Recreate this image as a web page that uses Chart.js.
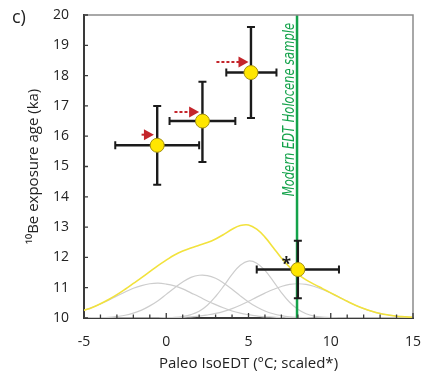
<!DOCTYPE html>
<html><head><meta charset="utf-8">
<script src="https://cdn.jsdelivr.net/npm/chart.js@4/dist/chart.umd.min.js"></script>
<style>html,body{margin:0;padding:0;background:#fff;}#wrap{width:429px;height:380px;position:relative}</style>
</head><body><div id="wrap"><canvas id="c" width="429" height="380"></canvas></div>
<script>
// ---- data ----
const curveX = [-5,-4.5,-4,-3.5,-3,-2.5,-2,-1.5,-1,-0.5,0,0.5,1,1.5,2,2.5,3,3.5,4,4.5,5,5.5,6,6.5,7,7.5,8,8.5,9,9.5,10,10.5,11,11.5,12,12.5,13,13.5,14,14.5,15];
const gauss1 = [10.25,10.35,10.46,10.59,10.73,10.86,10.98,11.07,11.13,11.15,11.12,11.06,10.96,10.83,10.70,10.56,10.44,10.33,10.23,10.16,10.11,10.07,10.04,10.03,10.01,10.01,10.00,10.00,10.00,10.00,10.00,10.00,10.00,10.00,10.00,10.00,10.00,10.00,10.00,10.00,10.00];
const gauss2 = [10.00,10.01,10.01,10.02,10.05,10.09,10.16,10.26,10.40,10.57,10.78,10.99,11.19,11.34,11.41,11.40,11.31,11.15,10.95,10.73,10.53,10.36,10.23,10.14,10.08,10.04,10.02,10.01,10.00,10.00,10.00,10.00,10.00,10.00,10.00,10.00,10.00,10.00,10.00,10.00,10.00];
const gauss3 = [10.00,10.00,10.00,10.00,10.00,10.00,10.00,10.00,10.00,10.00,10.01,10.02,10.05,10.11,10.22,10.42,10.71,11.06,11.44,11.74,11.88,11.81,11.57,11.22,10.84,10.52,10.29,10.14,10.06,10.03,10.01,10.00,10.00,10.00,10.00,10.00,10.00,10.00,10.00,10.00,10.00];
const gauss4 = [10.00,10.00,10.00,10.00,10.00,10.00,10.00,10.00,10.00,10.00,10.01,10.01,10.02,10.04,10.06,10.10,10.15,10.22,10.31,10.42,10.55,10.69,10.82,10.94,11.04,11.11,11.13,11.11,11.04,10.94,10.82,10.69,10.55,10.42,10.31,10.22,10.15,10.10,10.06,10.04,10.02];
const sumCurve = [10.25,10.35,10.47,10.61,10.77,10.95,11.14,11.33,11.53,11.73,11.91,12.08,12.21,12.31,12.40,12.49,12.61,12.76,12.93,13.05,13.07,12.93,12.67,12.33,11.98,11.68,11.45,11.26,11.11,10.97,10.83,10.69,10.55,10.42,10.31,10.22,10.15,10.10,10.06,10.04,10.02];

const sampleX  = [-0.55, 2.2, 5.15, 8.0];
const sampleY  = [15.7, 16.5, 18.1, 11.6];
const xErrLow  = [-3.1, 0.2, 3.65, 5.5];
const xErrHigh = [2.0, 4.2, 6.7, 10.5];
const yErrLow  = [14.4, 15.15, 16.6, 10.65];
const yErrHigh = [17.0, 17.8, 19.6, 12.55];

const modernX = 7.95;
const modernLabel = 'Modern EDT Holocene sample';

const arrowStartX = [-1.5, 0.5, 3.05];
const arrowEndX   = [-0.75, 2.0, 5.0];
const arrowY      = [16.05, 16.8, 18.45];
const arrowDashed = [false, true, true];

const starX = [7.3];
const starY = [11.85];

const xMin = -5, xMax = 15, yMin = 10, yMax = 20;
const panelLabel = 'c)';
const xTitle = 'Paleo IsoEDT (°C; scaled*)';
const yTitle = '¹⁰Be exposure age (ka)';

// ---- build datasets ----
const pts = a => curveX.map((x, i) => ({x, y: a[i]}));
const GRAY = '#cdcdcd';

const overlay = {
  id: 'overlay',
  beforeDatasetDraw(chart, args) {
    if (args.index !== 0) return;
    const {ctx, scales: {x, y}} = chart;
    ctx.save();
    ctx.strokeStyle = '#1b1b1b';
    const cap = 4;
    for (let i = 0; i < sampleX.length; i++) {
      const px = x.getPixelForValue(sampleX[i]);
      const py = y.getPixelForValue(sampleY[i]);
      const xl = x.getPixelForValue(xErrLow[i]), xh = x.getPixelForValue(xErrHigh[i]);
      const yl = y.getPixelForValue(yErrLow[i]), yh = y.getPixelForValue(yErrHigh[i]);
      ctx.lineWidth = 2.4;
      ctx.beginPath();
      ctx.moveTo(xl, py); ctx.lineTo(xh, py);
      ctx.moveTo(px, yl); ctx.lineTo(px, yh);
      ctx.stroke();
      ctx.lineWidth = 2;
      ctx.beginPath();
      ctx.moveTo(xl, py - cap); ctx.lineTo(xl, py + cap);
      ctx.moveTo(xh, py - cap); ctx.lineTo(xh, py + cap);
      ctx.moveTo(px - cap, yl); ctx.lineTo(px + cap, yl);
      ctx.moveTo(px - cap, yh); ctx.lineTo(px + cap, yh);
      ctx.stroke();
    }
    ctx.restore();
  },
  afterDatasetsDraw(chart) {
    const {ctx, chartArea: ca, scales: {x, y}} = chart;
    ctx.save();
    // frame top / right
    ctx.strokeStyle = '#8c8c8c';
    ctx.lineWidth = 1.5;
    ctx.beginPath();
    ctx.moveTo(ca.left, ca.top); ctx.lineTo(ca.right, ca.top); ctx.lineTo(ca.right, ca.bottom);
    ctx.stroke();
    // inward ticks
    ctx.strokeStyle = '#3a3a3a';
    ctx.lineWidth = 1.3;
    ctx.beginPath();
    x.ticks.forEach(t => {
      const px = x.getPixelForValue(t.value);
      const len = (t.value % 5 === 0) ? 5 : 3.5;
      ctx.moveTo(px, ca.bottom); ctx.lineTo(px, ca.bottom - len);
    });
    y.ticks.forEach(t => {
      const py = y.getPixelForValue(t.value);
      ctx.moveTo(ca.left, py); ctx.lineTo(ca.left + 4, py);
    });
    ctx.stroke();
    // arrows
    ctx.strokeStyle = '#c4252b';
    ctx.fillStyle = '#c4252b';
    for (let i = 0; i < arrowY.length; i++) {
      const x0 = x.getPixelForValue(arrowStartX[i]);
      const x1 = x.getPixelForValue(arrowEndX[i]);
      const py = y.getPixelForValue(arrowY[i]);
      const head = 10;
      ctx.lineWidth = 2;
      ctx.setLineDash(arrowDashed[i] ? [3, 2] : []);
      ctx.beginPath();
      ctx.moveTo(x0, py); ctx.lineTo(x1 - head + 1, py);
      ctx.stroke();
      ctx.setLineDash([]);
      ctx.beginPath();
      ctx.moveTo(x1, py);
      ctx.lineTo(x1 - head, py - 5.5);
      ctx.lineTo(x1 - head, py + 5.5);
      ctx.closePath();
      ctx.fill();
    }
    // asterisk
    ctx.fillStyle = '#1b1b1b';
    ctx.font = 'bold 17px "Open Sans", sans-serif';
    ctx.textAlign = 'center';
    ctx.textBaseline = 'middle';
    for (let i = 0; i < starX.length; i++) {
      ctx.fillText('*', x.getPixelForValue(starX[i]), y.getPixelForValue(starY[i]) + 3);
    }
    // modern label
    const gx = x.getPixelForValue(modernX);
    ctx.translate(gx - 3, ca.top + 8);
    ctx.rotate(-Math.PI / 2);
    ctx.scale(0.8, 1);
    ctx.fillStyle = '#13a24a';
    ctx.font = 'italic 16px "Liberation Sans Narrow", "DejaVu Sans Condensed", sans-serif';
    ctx.textAlign = 'right';
    ctx.textBaseline = 'alphabetic';
    ctx.fillText(modernLabel, 0, 0);
    ctx.restore();
    // panel label
    ctx.save();
    ctx.fillStyle = '#222';
    ctx.font = '18px "Open Sans", sans-serif';
    ctx.textAlign = 'left';
    ctx.textBaseline = 'middle';
    ctx.fillText(panelLabel, 12, 18);
    ctx.restore();
  }
};

new Chart(document.getElementById('c'), {
  type: 'scatter',
  data: {
    datasets: [
      {label: 'samples', data: sampleX.map((v, i) => ({x: v, y: sampleY[i]})),
       pointRadius: 7, pointHoverRadius: 7, backgroundColor: '#ffe600', borderColor: '#a38f12', borderWidth: 1},
      {label: 'modern', data: [{x: modernX, y: yMin}, {x: modernX, y: yMax}], showLine: true,
       borderColor: '#13a24a', borderWidth: 2.5, pointRadius: 0},
      {label: 'sum', data: pts(sumCurve), showLine: true, borderColor: '#f2e23c', borderWidth: 1.6, pointRadius: 0, tension: 0.4},
      {label: 'g1', data: pts(gauss1), showLine: true, borderColor: GRAY, borderWidth: 1.2, pointRadius: 0, tension: 0.4},
      {label: 'g2', data: pts(gauss2), showLine: true, borderColor: GRAY, borderWidth: 1.2, pointRadius: 0, tension: 0.4},
      {label: 'g3', data: pts(gauss3), showLine: true, borderColor: GRAY, borderWidth: 1.2, pointRadius: 0, tension: 0.4},
      {label: 'g4', data: pts(gauss4), showLine: true, borderColor: GRAY, borderWidth: 1.2, pointRadius: 0, tension: 0.4}
    ]
  },
  options: {
    responsive: false,
    animation: false,
    devicePixelRatio: 1,
    layout: {padding: {top: 15, right: 16, left: 0, bottom: 0}},
    plugins: {legend: {display: false}, tooltip: {enabled: false}},
    scales: {
      x: {
        type: 'linear', min: xMin, max: xMax,
        grid: {display: true, drawOnChartArea: false, drawTicks: false},
        border: {display: true, color: '#3a3a3a', width: 2},
        ticks: {stepSize: 1, autoSkip: false, maxRotation: 0, padding: 16, color: '#222',
          font: {family: '"Open Sans", sans-serif', size: 14},
          callback: v => (v % 5 === 0 ? String(v) : '')},
        title: {display: true, text: xTitle, color: '#222', font: {family: '"Open Sans", sans-serif', size: 15}, padding: {top: 0, bottom: 7}},
        afterFit: s => { s.height = 62; s.paddingLeft = 0; s.paddingRight = 0; }
      },
      y: {
        type: 'linear', min: yMin, max: yMax,
        grid: {display: true, drawOnChartArea: false, drawTicks: false},
        border: {display: true, color: '#3a3a3a', width: 2},
        ticks: {stepSize: 1, padding: 15, color: '#222', font: {family: '"Open Sans", sans-serif', size: 14}},
        title: {display: true, text: yTitle, color: '#222', font: {family: '"Open Sans", sans-serif', size: 15}, padding: {top: 25, bottom: 0}},
        afterFit: s => { s.width = 84; s.paddingTop = 0; s.paddingBottom = 0; }
      }
    }
  },
  plugins: [overlay]
});
</script>
</body></html>
